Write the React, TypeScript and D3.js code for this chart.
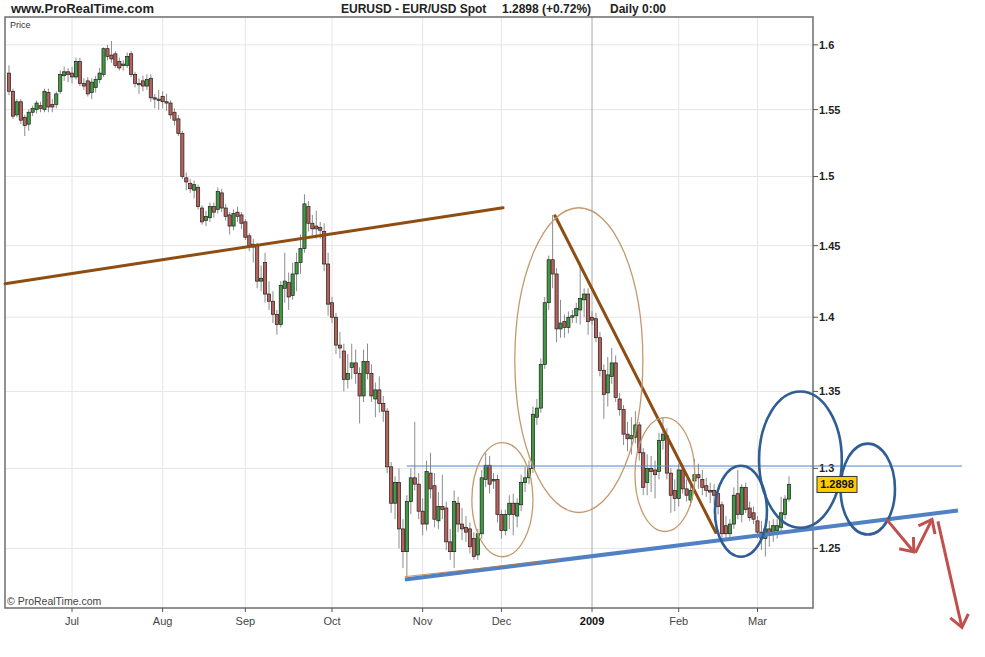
import React from "react";
import * as d3 from "d3";

type Bar = [number, number, number, number]; // open, high, low, close

const ohlcJun2008: Bar[] = [
  [1.578, 1.584, 1.561, 1.564], [1.564, 1.566, 1.543, 1.545], [1.546, 1.558, 1.544, 1.556],
  [1.556, 1.558, 1.539, 1.542], [1.544, 1.546, 1.530, 1.538], [1.539, 1.550, 1.534, 1.548],
  [1.548, 1.553, 1.545, 1.551], [1.550, 1.557, 1.547, 1.555], [1.553, 1.556, 1.548, 1.551],
  [1.550, 1.566, 1.548, 1.564], [1.563, 1.566, 1.548, 1.552], [1.554, 1.558, 1.548, 1.552],
  [1.554, 1.564, 1.551, 1.562], [1.564, 1.580, 1.562, 1.577], [1.576, 1.583, 1.572, 1.579],
  [1.579, 1.582, 1.571, 1.577],
];
const ohlcJul2008: Bar[] = [
  [1.578, 1.583, 1.570, 1.575], [1.575, 1.590, 1.573, 1.587], [1.587, 1.590, 1.568, 1.570],
  [1.570, 1.574, 1.565, 1.568], [1.572, 1.575, 1.560, 1.562], [1.563, 1.574, 1.558, 1.571],
  [1.567, 1.576, 1.563, 1.573], [1.573, 1.582, 1.570, 1.578], [1.577, 1.598, 1.575, 1.597],
  [1.597, 1.600, 1.588, 1.591], [1.592, 1.603, 1.586, 1.589], [1.593, 1.595, 1.582, 1.584],
  [1.587, 1.590, 1.580, 1.582], [1.584, 1.588, 1.580, 1.585], [1.584, 1.594, 1.582, 1.591],
  [1.593, 1.595, 1.575, 1.577], [1.577, 1.579, 1.567, 1.570], [1.570, 1.574, 1.562, 1.569],
  [1.572, 1.576, 1.564, 1.568], [1.568, 1.577, 1.565, 1.573], [1.574, 1.577, 1.556, 1.559],
  [1.559, 1.562, 1.551, 1.558], [1.558, 1.565, 1.550, 1.557],
];
const ohlcAug2008: Bar[] = [
  [1.560, 1.564, 1.551, 1.556], [1.556, 1.562, 1.549, 1.555], [1.555, 1.557, 1.543, 1.546],
  [1.548, 1.551, 1.538, 1.542], [1.543, 1.546, 1.530, 1.532], [1.532, 1.534, 1.498, 1.500],
  [1.499, 1.503, 1.490, 1.496], [1.495, 1.498, 1.488, 1.491], [1.490, 1.497, 1.484, 1.494],
  [1.492, 1.494, 1.476, 1.478], [1.477, 1.479, 1.465, 1.467], [1.468, 1.475, 1.464, 1.471],
  [1.470, 1.481, 1.467, 1.478], [1.478, 1.481, 1.470, 1.474], [1.476, 1.492, 1.473, 1.489],
  [1.488, 1.491, 1.474, 1.477], [1.477, 1.480, 1.468, 1.471], [1.472, 1.474, 1.458, 1.464],
  [1.464, 1.476, 1.461, 1.473], [1.474, 1.478, 1.467, 1.471], [1.472, 1.474, 1.462, 1.466],
];
const ohlcSep2008: Bar[] = [
  [1.467, 1.469, 1.454, 1.456], [1.457, 1.459, 1.446, 1.450], [1.451, 1.455, 1.438, 1.449],
  [1.450, 1.452, 1.420, 1.425], [1.425, 1.436, 1.418, 1.427], [1.438, 1.445, 1.410, 1.416],
  [1.416, 1.425, 1.405, 1.411], [1.411, 1.418, 1.396, 1.402], [1.402, 1.405, 1.388, 1.395],
  [1.395, 1.425, 1.393, 1.422], [1.420, 1.445, 1.410, 1.425], [1.424, 1.431, 1.405, 1.414],
  [1.415, 1.438, 1.412, 1.430], [1.430, 1.445, 1.418, 1.438], [1.438, 1.458, 1.430, 1.448],
  [1.448, 1.487, 1.445, 1.480], [1.478, 1.482, 1.460, 1.466], [1.466, 1.472, 1.457, 1.462],
  [1.464, 1.475, 1.455, 1.462], [1.463, 1.467, 1.455, 1.461], [1.460, 1.466, 1.432, 1.437],
  [1.437, 1.445, 1.401, 1.409],
];
const ohlcOct2008: Bar[] = [
  [1.410, 1.414, 1.396, 1.400], [1.400, 1.403, 1.375, 1.381], [1.381, 1.390, 1.372, 1.379],
  [1.377, 1.382, 1.350, 1.358], [1.358, 1.375, 1.352, 1.362], [1.366, 1.382, 1.358, 1.369],
  [1.369, 1.378, 1.355, 1.362], [1.362, 1.366, 1.329, 1.347], [1.347, 1.378, 1.343, 1.370],
  [1.370, 1.382, 1.358, 1.362], [1.362, 1.368, 1.343, 1.347], [1.345, 1.356, 1.333, 1.351],
  [1.351, 1.360, 1.336, 1.342], [1.342, 1.347, 1.330, 1.337], [1.337, 1.339, 1.297, 1.301],
  [1.301, 1.304, 1.272, 1.278], [1.278, 1.295, 1.268, 1.291], [1.291, 1.300, 1.250, 1.262],
  [1.262, 1.268, 1.238, 1.248], [1.248, 1.283, 1.233, 1.279], [1.279, 1.300, 1.271, 1.294],
  [1.294, 1.330, 1.286, 1.290], [1.290, 1.297, 1.268, 1.273],
];
const ohlcNov2008: Bar[] = [
  [1.273, 1.281, 1.258, 1.265], [1.265, 1.305, 1.261, 1.298], [1.297, 1.310, 1.281, 1.287],
  [1.289, 1.297, 1.263, 1.268], [1.267, 1.285, 1.262, 1.276], [1.276, 1.296, 1.268, 1.274],
  [1.275, 1.279, 1.249, 1.254], [1.254, 1.262, 1.243, 1.248], [1.248, 1.286, 1.238, 1.279],
  [1.278, 1.282, 1.260, 1.265], [1.265, 1.275, 1.255, 1.262], [1.263, 1.270, 1.254, 1.260],
  [1.262, 1.266, 1.247, 1.251], [1.256, 1.260, 1.243, 1.245], [1.246, 1.262, 1.243, 1.259],
  [1.259, 1.299, 1.256, 1.294], [1.293, 1.310, 1.288, 1.302], [1.302, 1.308, 1.284, 1.290],
  [1.292, 1.297, 1.287, 1.293], [1.293, 1.296, 1.266, 1.271],
];
const ohlcDec2008: Bar[] = [
  [1.271, 1.274, 1.256, 1.261], [1.261, 1.274, 1.258, 1.271], [1.271, 1.283, 1.262, 1.278],
  [1.278, 1.284, 1.258, 1.271], [1.270, 1.281, 1.263, 1.278], [1.277, 1.296, 1.273, 1.291],
  [1.291, 1.301, 1.285, 1.294], [1.294, 1.305, 1.290, 1.300], [1.300, 1.340, 1.297, 1.335],
  [1.333, 1.345, 1.328, 1.339], [1.339, 1.372, 1.336, 1.368], [1.368, 1.414, 1.365, 1.410],
  [1.410, 1.443, 1.405, 1.440], [1.440, 1.472, 1.420, 1.430], [1.430, 1.434, 1.383, 1.392],
  [1.392, 1.412, 1.386, 1.396], [1.397, 1.402, 1.386, 1.393], [1.393, 1.404, 1.389, 1.400],
  [1.400, 1.405, 1.396, 1.401], [1.401, 1.410, 1.396, 1.406], [1.405, 1.438, 1.395, 1.413],
  [1.412, 1.420, 1.400, 1.416], [1.416, 1.420, 1.388, 1.397],
];
const ohlcJan2009: Bar[] = [
  [1.400, 1.404, 1.395, 1.398], [1.399, 1.403, 1.383, 1.386], [1.386, 1.390, 1.360, 1.364],
  [1.364, 1.368, 1.332, 1.348], [1.349, 1.373, 1.340, 1.361], [1.360, 1.379, 1.355, 1.369],
  [1.369, 1.374, 1.343, 1.346], [1.345, 1.349, 1.334, 1.338], [1.338, 1.341, 1.315, 1.322],
  [1.322, 1.330, 1.311, 1.319], [1.319, 1.333, 1.309, 1.321], [1.320, 1.337, 1.316, 1.328],
  [1.328, 1.330, 1.305, 1.310], [1.310, 1.313, 1.283, 1.288], [1.291, 1.309, 1.283, 1.300],
  [1.300, 1.308, 1.285, 1.298], [1.299, 1.305, 1.281, 1.296], [1.298, 1.323, 1.293, 1.318],
  [1.318, 1.333, 1.312, 1.322], [1.321, 1.326, 1.293, 1.297], [1.297, 1.300, 1.272, 1.283],
  [1.286, 1.293, 1.273, 1.281],
];
const ohlcFeb2009: Bar[] = [
  [1.281, 1.303, 1.276, 1.299], [1.299, 1.303, 1.284, 1.287], [1.287, 1.293, 1.279, 1.283],
  [1.280, 1.289, 1.276, 1.286], [1.292, 1.306, 1.287, 1.296], [1.296, 1.303, 1.287, 1.294],
  [1.293, 1.299, 1.283, 1.288], [1.289, 1.294, 1.282, 1.286], [1.286, 1.291, 1.278, 1.285],
  [1.286, 1.290, 1.277, 1.283], [1.284, 1.287, 1.271, 1.276], [1.277, 1.279, 1.256, 1.259],
  [1.264, 1.270, 1.256, 1.259], [1.259, 1.268, 1.255, 1.265], [1.265, 1.288, 1.262, 1.283],
  [1.284, 1.299, 1.268, 1.271], [1.271, 1.290, 1.266, 1.288], [1.288, 1.291, 1.272, 1.274],
  [1.275, 1.279, 1.267, 1.269], [1.272, 1.276, 1.265, 1.268],
];
const ohlcMar2009: Bar[] = [
  [1.267, 1.270, 1.256, 1.260], [1.260, 1.267, 1.249, 1.256], [1.256, 1.268, 1.245, 1.262],
  [1.262, 1.267, 1.251, 1.258], [1.259, 1.268, 1.254, 1.264], [1.261, 1.268, 1.256, 1.264],
  [1.263, 1.282, 1.260, 1.272], [1.271, 1.283, 1.268, 1.2806], [1.2806, 1.295, 1.279, 1.2898],
];

const firstDay = "2008-06-09";
const lastDay = "2009-03-12";
const priceTicks = [1.25, 1.3, 1.35, 1.4, 1.45, 1.5, 1.55, 1.6];
const monthTicks = [
  { start: "2008-07-01", label: "Jul", strong: false },
  { start: "2008-08-01", label: "Aug", strong: false },
  { start: "2008-09-01", label: "Sep", strong: false },
  { start: "2008-10-01", label: "Oct", strong: false },
  { start: "2008-11-01", label: "Nov", strong: false },
  { start: "2008-12-01", label: "Dec", strong: false },
  { start: "2009-01-01", label: "2009", strong: true },
  { start: "2009-02-01", label: "Feb", strong: false },
  { start: "2009-03-01", label: "Mar", strong: false },
];
const lastPrice = 1.2898;
const siteTitle = "www.ProRealTime.com";
const instrumentTitle = "EURUSD - EUR/USD Spot";
const priceTitle = "1.2898 (+0.72%)";
const periodTitle = "Daily 0:00";

// Annotations, in (trading-day index, price)
const brownTrendLines: [number, number][][] = [
  [[-1.0, 1.4232], [125.4, 1.4772]],
  [[138.6, 1.4714], [179.4, 1.2598]],
];
const supportLine: [number, number][] = [[100.5, 1.2311], [240.9, 1.2734]];
const supportShadow: [number, number][] = [[100.5, 1.2328], [140, 1.2432]];
const resistance = { from: 101.0, to: 241.9, price: 1.3015 };
// [idxFrom, idxTo, priceLow, priceHigh]
const brownEllipses = [
  [117.5, 133.0, 1.2449, 1.3165],
  [128.4, 160.9, 1.2722, 1.4772],
  [158.9, 174.1, 1.2604, 1.3328],
];
const blueEllipses = [
  [179.2, 192.4, 1.2449, 1.3017],
  [190.4, 211.4, 1.2627, 1.3499],
  [211.1, 224.9, 1.2585, 1.3159],
];
const redArrows: [number, number][][] = [
  [[222.8, 1.2679], [229.7, 1.2478]],
  [[230.1, 1.2474], [234.3, 1.2679]],
  [[235.8, 1.2667], [241.9, 1.2025]],
];

const parse = d3.timeParse("%Y-%m-%d");

export default function App() {
  const W = 985, H = 657;
  const left = 5, right = 813, top = 17, bottom = 608;
  const allBars: Bar[] = [
    ...ohlcJun2008, ...ohlcJul2008, ...ohlcAug2008, ...ohlcSep2008, ...ohlcOct2008,
    ...ohlcNov2008, ...ohlcDec2008, ...ohlcJan2009, ...ohlcFeb2009, ...ohlcMar2009,
  ];
  const days = d3
    .timeDay.range(parse(firstDay)!, d3.timeDay.offset(parse(lastDay)!, 1))
    .filter((d) => d.getDay() !== 0 && d.getDay() !== 6);
  const candles = allBars.map((b, i) => ({ date: days[i], o: b[0], h: b[1], l: b[2], c: b[3] }));

  const x = d3.scaleLinear().domain([0, days.length - 1]).range([9, 789]);
  const y = d3.scaleLog().domain([1.214, 1.622]).range([bottom, top]);

  const months = monthTicks.map((m) => {
    const s = parse(m.start)!;
    const idx = days.findIndex((d) => d >= s);
    return { ...m, idx };
  });

  const font = "'Liberation Sans', Arial, Helvetica, sans-serif";
  const line = d3.line<[number, number]>().x((d) => x(d[0])).y((d) => y(d[1]));

  const arrowHead = (p: [number, number][]) => {
    const x1 = x(p[0][0]), y1 = y(p[0][1]), x2 = x(p[1][0]), y2 = y(p[1][1]);
    const a = Math.atan2(y2 - y1, x2 - x1);
    const len = 15, spread = (38 * Math.PI) / 180;
    const w1 = [x2 - len * Math.cos(a - spread), y2 - len * Math.sin(a - spread)];
    const w2 = [x2 - len * Math.cos(a + spread), y2 - len * Math.sin(a + spread)];
    return `M${w1[0]},${w1[1]}L${x2},${y2}L${w2[0]},${w2[1]}`;
  };

  const ellipse = (e: number[], key: string, stroke: string, sw: number) => {
    const x1 = x(e[0]), x2 = x(e[1]), yTop = y(e[3]), yBot = y(e[2]);
    return (
      <ellipse key={key} cx={(x1 + x2) / 2} cy={(yTop + yBot) / 2} rx={(x2 - x1) / 2} ry={(yBot - yTop) / 2}
        fill="none" stroke={stroke} strokeWidth={sw} />
    );
  };

  return (
    <svg width={W} height={H} style={{ position: "absolute", left: 0, top: 0, background: "#fff" }}
      fontFamily={font}>
      <rect x={0} y={0} width={W} height={H} fill="#fff" />
      {/* header */}
      <text x={11} y={13} fontSize={13} fontWeight="bold" fill="#222">{siteTitle}</text>
      <text x={341} y={13} fontSize={12} fontWeight="bold" fill="#222">{instrumentTitle}</text>
      <text x={502} y={13} fontSize={12} fontWeight="bold" fill="#222">{priceTitle}</text>
      <text x={610} y={13} fontSize={12} fontWeight="bold" fill="#222">{periodTitle}</text>

      {/* grid */}
      {priceTicks.map((p) => (
        <line key={"hg" + p} x1={left} x2={right} y1={y(p)} y2={y(p)} stroke="#e6e6e6" strokeWidth={1} />
      ))}
      {months.map((m) => (
        <line key={"vg" + m.label} x1={x(m.idx)} x2={x(m.idx)} y1={top} y2={bottom}
          stroke={m.strong ? "#a8a8a8" : "#e6e6e6"} strokeWidth={1} />
      ))}

      <text x={10} y={28} fontSize={9} fill="#333">Price</text>
      <text x={7} y={605} fontSize={10.5} fill="#444">© ProRealTime.com</text>

      {/* candles */}
      {candles.map((c, i) => {
        const cx = x(i);
        const up = c.c >= c.o;
        const yt = y(Math.max(c.o, c.c));
        const yb = y(Math.min(c.o, c.c));
        return (
          <g key={"c" + i}>
            <line x1={cx} x2={cx} y1={y(c.h)} y2={y(c.l)} stroke="#8c8c8c" strokeWidth={1} />
            <rect x={cx - 1.6} y={yt} width={3.2} height={Math.max(1.2, yb - yt)}
              fill={up ? "#3f9b3f" : "#b9605b"} stroke="#1e1e1e" strokeWidth={0.7} />
          </g>
        );
      })}

      {/* frame */}
      <rect x={left} y={top} width={right - left} height={bottom - top} fill="none" stroke="#6e6e6e" strokeWidth={1.5} />

      {/* right axis */}
      {priceTicks.map((p) => (
        <g key={"yt" + p}>
          <line x1={right} x2={right + 5} y1={y(p)} y2={y(p)} stroke="#555" strokeWidth={1} />
          <text x={right + 6} y={y(p) + 4} fontSize={11} fontWeight="bold" fill="#222">{String(p)}</text>
        </g>
      ))}
      {/* bottom axis */}
      {months.map((m) => (
        <g key={"xt" + m.label}>
          <line x1={x(m.idx)} x2={x(m.idx)} y1={bottom} y2={bottom + 4} stroke="#555" strokeWidth={1} />
          <text x={x(m.idx)} y={625} fontSize={11} textAnchor="middle" fill={m.strong ? "#111" : "#444"}
            fontWeight={m.strong ? "bold" : "normal"}>{m.label}</text>
        </g>
      ))}

      {/* annotations */}
      <line x1={x(resistance.from)} x2={x(resistance.to)} y1={y(resistance.price)} y2={y(resistance.price)}
        stroke="#4a84d4" strokeWidth={1} />
      {brownTrendLines.map((l, i) => (
        <path key={"bt" + i} d={line(l) || ""} stroke="#8e4d12" strokeWidth={3} fill="none" strokeLinecap="round" />
      ))}
      {brownEllipses.map((e, i) => ellipse(e, "be" + i, "#c49a6c", 1.3))}
      <path d={line(supportLine) || ""} stroke="#4f81c4" strokeWidth={4} fill="none" />
      <path d={line(supportShadow) || ""} stroke="#b87a45" strokeWidth={1} strokeOpacity={0.8} fill="none" />
      {blueEllipses.map((e, i) => ellipse(e, "ble" + i, "#2f5d94", 2.6))}
      {redArrows.map((a, i) => (
        <g key={"ra" + i}>
          <path d={line(a) || ""} stroke="#c0504d" strokeWidth={3} fill="none" />
          <path d={arrowHead(a)} stroke="#c0504d" strokeWidth={3} fill="none" strokeLinejoin="miter" />
        </g>
      ))}

      {/* last price label */}
      <rect x={817} y={y(lastPrice) - 8} width={40} height={16} fill="#ffcc00" stroke="#333" strokeWidth={1} />
      <text x={837} y={y(lastPrice) + 4} fontSize={11} fontWeight="bold" textAnchor="middle" fill="#111">{String(lastPrice)}</text>
    </svg>
  );
}
